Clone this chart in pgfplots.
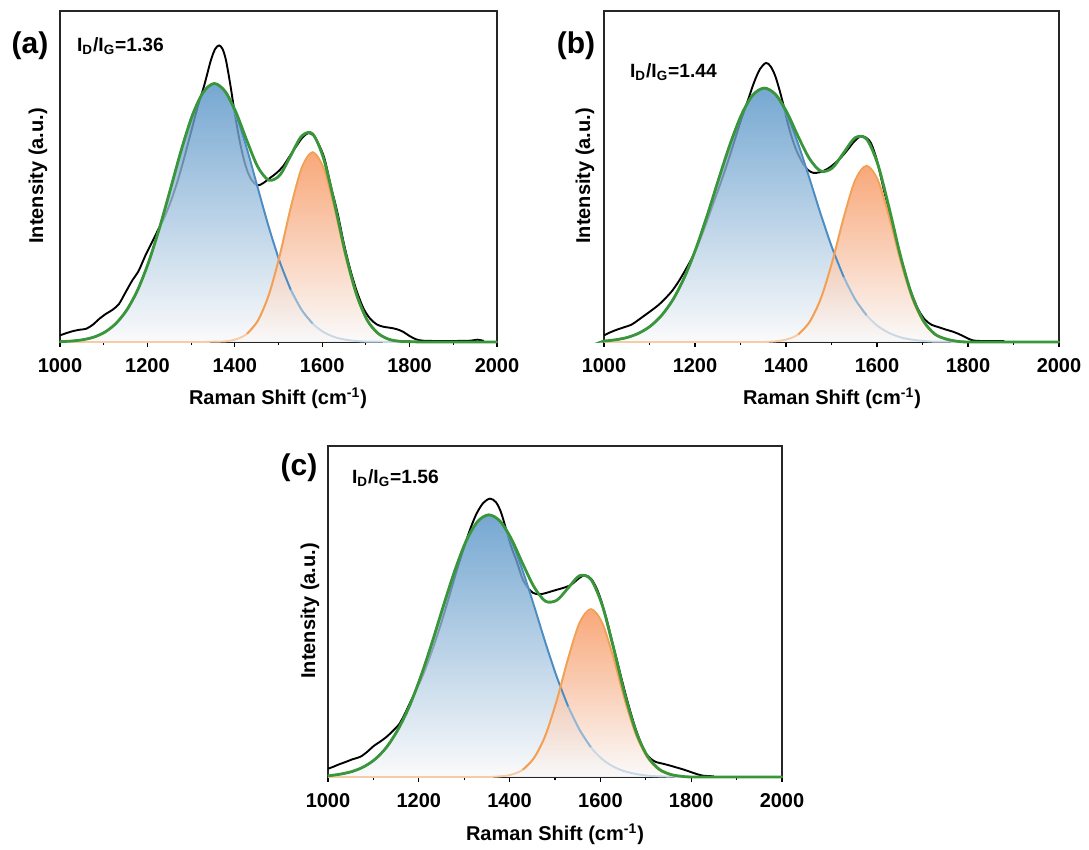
\documentclass[border=0pt]{standalone}
\usepackage{fontspec}
\setmainfont{Liberation Sans}
\usepackage{pgfplots}
\usepackage{pgfplotstable}
\pgfplotsset{compat=1.18}

\definecolor{sumgreen}{RGB}{58,150,58}
\definecolor{dmain}{RGB}{74,140,196}
\definecolor{dmid}{RGB}{146,182,212}
\definecolor{dtail}{RGB}{200,216,228}
\definecolor{dtop}{RGB}{84,146,198}
\definecolor{gmain}{RGB}{242,160,86}
\definecolor{gtail}{RGB}{246,204,166}
\definecolor{gtop}{RGB}{248,146,88}
\definecolor{fadebot}{RGB}{249,249,250}

% ---------- measured spectra ----------
\pgfplotstableread{
x y
1000 0.020
1015 0.027
1030 0.033
1045 0.037
1060 0.040
1075 0.052
1090 0.070
1105 0.085
1120 0.097
1135 0.115
1150 0.150
1165 0.185
1180 0.215
1195 0.260
1210 0.300
1225 0.340
1240 0.380
1255 0.430
1270 0.490
1285 0.560
1300 0.635
1315 0.710
1330 0.775
1345 0.850
1355 0.885
1364 0.896
1372 0.885
1380 0.850
1390 0.775
1400 0.690
1410 0.615
1420 0.555
1430 0.512
1440 0.487
1452 0.473
1465 0.480
1480 0.495
1495 0.510
1510 0.530
1525 0.560
1540 0.590
1555 0.618
1568 0.631
1580 0.624
1592 0.597
1605 0.555
1620 0.470
1635 0.390
1650 0.295
1665 0.215
1680 0.150
1695 0.100
1710 0.070
1725 0.053
1740 0.046
1755 0.043
1770 0.039
1785 0.031
1800 0.018
1815 0.008
1830 0.004
1860 0.003
1900 0.003
1940 0.004
1955 0.007
1970 0.003
}\rawA

\pgfplotstableread{
x y
1000 0.020
1015 0.030
1030 0.038
1045 0.045
1060 0.052
1075 0.066
1090 0.081
1105 0.096
1120 0.112
1135 0.132
1150 0.155
1165 0.185
1180 0.220
1195 0.258
1210 0.305
1225 0.360
1240 0.418
1255 0.475
1270 0.535
1285 0.600
1300 0.665
1315 0.725
1330 0.785
1343 0.825
1356 0.843
1366 0.833
1376 0.805
1386 0.760
1395 0.712
1405 0.655
1415 0.608
1425 0.572
1437 0.540
1448 0.520
1460 0.511
1475 0.513
1490 0.522
1505 0.537
1520 0.556
1535 0.580
1550 0.606
1563 0.621
1575 0.618
1587 0.600
1600 0.548
1615 0.460
1630 0.380
1645 0.290
1660 0.210
1675 0.150
1690 0.100
1705 0.068
1720 0.052
1735 0.045
1750 0.038
1765 0.032
1780 0.024
1795 0.014
1810 0.005
1830 0.003
1880 0.003
}\rawB

\pgfplotstableread{
x y
1000 0.025
1012 0.031
1024 0.038
1040 0.046
1053 0.053
1065 0.058
1075 0.064
1088 0.078
1101 0.094
1114 0.106
1127 0.119
1142 0.138
1157 0.160
1170 0.193
1182 0.228
1195 0.265
1210 0.310
1225 0.365
1240 0.425
1255 0.490
1270 0.560
1285 0.630
1300 0.695
1313 0.748
1327 0.795
1342 0.828
1357 0.841
1370 0.830
1381 0.800
1393 0.745
1405 0.690
1416 0.650
1428 0.600
1440 0.572
1452 0.556
1465 0.552
1478 0.555
1490 0.560
1505 0.566
1520 0.572
1535 0.580
1548 0.595
1560 0.607
1570 0.608
1580 0.598
1590 0.575
1600 0.540
1613 0.480
1624 0.420
1635 0.360
1646 0.300
1657 0.242
1668 0.188
1679 0.140
1690 0.100
1701 0.070
1712 0.054
1723 0.045
1738 0.040
1752 0.035
1767 0.029
1782 0.023
1797 0.016
1812 0.009
1826 0.004
1850 0.002
}\rawC

% ---------- fitted bands: D, G and their sum ----------
\pgfplotstableread{
x D G S
1000 0.001 0 0.001
1003 0.001 0 0.001
1028 0.003 0 0.003
1053 0.007 0 0.007
1078 0.015 0 0.015
1103 0.030 0 0.030
1128 0.056 0 0.056
1153 0.097 0 0.097
1178 0.158 0 0.158
1203 0.242 0 0.242
1228 0.346 0 0.346
1253 0.463 0 0.463
1278 0.582 0 0.582
1303 0.685 0 0.685
1328 0.755 0 0.755
1353 0.780 0.001 0.781
1378 0.755 0.002 0.757
1403 0.685 0.008 0.693
1428 0.582 0.025 0.607
1453 0.463 0.065 0.528
1478 0.346 0.143 0.489
1503 0.242 0.262 0.504
1528 0.158 0.405 0.563
1553 0.097 0.525 0.622
1578 0.056 0.573 0.629
1603 0.030 0.525 0.555
1628 0.015 0.405 0.420
1653 0.007 0.262 0.269
1678 0.003 0.143 0.146
1703 0.001 0.065 0.066
1728 0.001 0.025 0.026
1753 0 0.008 0.008
1778 0 0.002 0.002
1803 0 0.001 0.001
1828 0 0 0
1900 0 0 0
2000 0 0 0
}\fitA

\pgfplotstableread{
x D G S
1000 0.003 0 0.003
1002 0.003 0 0.003
1027 0.007 0 0.007
1052 0.014 0 0.014
1077 0.027 0 0.027
1102 0.048 0 0.048
1127 0.081 0 0.081
1152 0.129 0 0.129
1177 0.196 0 0.196
1202 0.282 0 0.282
1227 0.383 0 0.383
1252 0.492 0 0.492
1277 0.597 0 0.597
1302 0.686 0 0.686
1327 0.746 0 0.746
1352 0.767 0 0.767
1377 0.746 0.002 0.748
1402 0.686 0.008 0.694
1427 0.597 0.023 0.620
1452 0.492 0.061 0.553
1477 0.383 0.133 0.516
1502 0.282 0.244 0.526
1527 0.196 0.376 0.572
1552 0.129 0.488 0.617
1577 0.081 0.532 0.613
1602 0.048 0.488 0.536
1627 0.027 0.376 0.403
1652 0.014 0.244 0.258
1677 0.007 0.133 0.140
1702 0.003 0.061 0.064
1727 0.001 0.023 0.024
1752 0.001 0.008 0.009
1777 0 0.002 0.002
1802 0 0 0
1900 0 0 0
2000 0 0 0
}\fitB

\pgfplotstableread{
x D G S
1000 0.003 0 0.003
1004 0.004 0 0.004
1029 0.009 0 0.009
1054 0.017 0 0.017
1079 0.031 0 0.031
1104 0.054 0 0.054
1129 0.090 0 0.090
1154 0.143 0 0.143
1179 0.213 0 0.213
1204 0.302 0 0.302
1229 0.405 0 0.405
1254 0.516 0 0.516
1279 0.622 0 0.622
1304 0.712 0 0.712
1329 0.771 0 0.771
1354 0.792 0 0.792
1379 0.771 0.002 0.773
1404 0.712 0.007 0.719
1429 0.622 0.022 0.644
1454 0.516 0.058 0.574
1479 0.405 0.126 0.531
1504 0.302 0.232 0.534
1529 0.213 0.358 0.571
1554 0.143 0.465 0.608
1579 0.090 0.507 0.597
1604 0.054 0.465 0.519
1629 0.031 0.358 0.389
1654 0.017 0.232 0.249
1679 0.009 0.126 0.135
1704 0.004 0.058 0.062
1729 0.002 0.022 0.024
1754 0.001 0.007 0.008
1779 0 0.002 0.002
1804 0 0 0
1900 0 0 0
2000 0 0 0
}\fitC

\pgfplotsset{
  raman/.style={
    scale only axis,
    xmin=1000, xmax=2000, ymin=0, ymax=1,
    xtick={1000,1200,...,2000},
    xticklabels={1000,1200,1400,1600,1800,2000},
    minor x tick num=1,
    ytick=\empty,
    xtick pos=left,
    tick align=outside,
    major tick length=2.6pt,
    minor tick length=1.6pt,
    every tick/.style={black, line width=0.55pt},
    axis line style={line width=0.6pt, black!85},
    tick label style={font=\bfseries\fontsize{10}{12}\selectfont},
    xticklabel style={yshift=-2pt},
    clip=false,
  },
  rawline/.style={black, line width=0.95pt, smooth},
  dfill/.style={draw=none, smooth, top color=dtop, bottom color=fadebot, fill opacity=0.8},
  gfill/.style={draw=none, smooth, top color=gtop, bottom color=fadebot, fill opacity=0.8},
  bandline/.style={line width=0.95pt, smooth},
  sumline/.style={sumgreen, line width=1.4pt, smooth},
}

% #1 raw spectrum, #2 fit table, #3/#4 where the D line fades, #5 where the G line turns solid
\newcommand{\spectrum}[5]{%
  \addplot[rawline] table[x=x,y=y] {#1};
  \addplot[dfill] table[x=x,y=D] {#2} \closedcycle;
  \addplot[gfill] table[x=x,y=G] {#2} \closedcycle;
  \addplot[bandline, dtail] table[x=x,y=D] {#2};
  \addplot[bandline, dmid, restrict x to domain=#3:#4] table[x=x,y=D] {#2};
  \addplot[bandline, dmain, restrict x to domain=1000:#3] table[x=x,y=D] {#2};
  \addplot[bandline, gtail] table[x=x,y=G] {#2};
  \addplot[bandline, gmain, restrict x to domain=#5:2000] table[x=x,y=G] {#2};
  \addplot[sumline] table[x=x,y=S] {#2};
}

\newcommand{\lbl}{\bfseries\fontsize{10}{12}\selectfont}
\newcommand{\tag}{\bfseries\fontsize{15}{17}\selectfont}
\newcommand{\ratio}{\bfseries\fontsize{9.6}{11}\selectfont}

\begin{document}
\begin{tikzpicture}[x=0.5pt,y=0.5pt]
\path[use as bounding box] (0,0) rectangle (1089,850);

% (a)
\begin{axis}[raman, at={(30pt,254pt)}, anchor=south west, width=218.5pt, height=165.5pt]
  \spectrum{\rawA}{\fitA}{1528}{1578}{1428}
\end{axis}
% (b)
\begin{axis}[raman, at={(302pt,254pt)}, anchor=south west, width=227.5pt, height=165.5pt]
  \spectrum{\rawB}{\fitB}{1527}{1577}{1427}
\end{axis}
% (c)
\begin{axis}[raman, at={(164pt,36.5pt)}, anchor=south west, width=227pt, height=165.5pt]
  \spectrum{\rawC}{\fitC}{1529}{1579}{1429}
\end{axis}

% panel tags and ratios
\node[font=\tag] at (30,804) {(a)};
\node[font=\tag] at (576,804) {(b)};
\node[font=\tag] at (299,382) {(c)};
\node[font=\ratio, anchor=west] at (70,804) {I\textsubscript{D}/I\textsubscript{G}=1.36};
\node[font=\ratio, anchor=west] at (623,778) {I\textsubscript{D}/I\textsubscript{G}=1.44};
\node[font=\ratio, anchor=west] at (345,372) {I\textsubscript{D}/I\textsubscript{G}=1.56};

% axis titles
\node[font=\lbl] at (278,452) {Raman Shift (cm\textsuperscript{-1})};
\node[font=\lbl] at (832,452) {Raman Shift (cm\textsuperscript{-1})};
\node[font=\lbl] at (555,16) {Raman Shift (cm\textsuperscript{-1})};
\node[font=\lbl, rotate=90] at (38,674) {Intensity (a.u.)};
\node[font=\lbl, rotate=90] at (585,674) {Intensity (a.u.)};
\node[font=\lbl, rotate=90] at (310,239) {Intensity (a.u.)};
\end{tikzpicture}
\end{document}
